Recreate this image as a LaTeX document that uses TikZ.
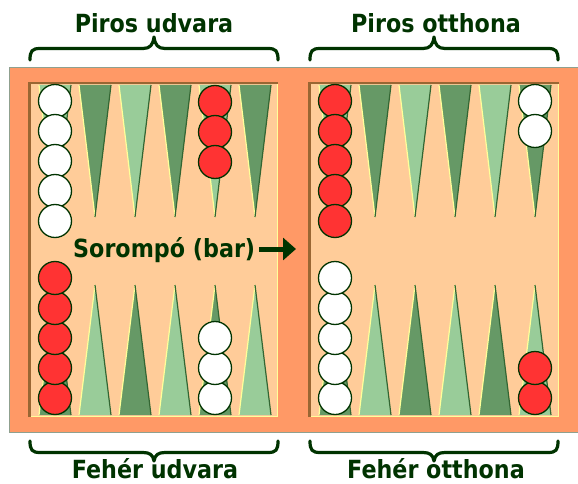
\documentclass[tikz,border=0pt]{standalone}
\usepackage{fontspec}
\usetikzlibrary{arrows.meta}
\newfontfamily\lblfont{DejaVu Sans}[BoldFont={DejaVu Sans Bold}]
\definecolor{boardorange}{HTML}{FF9966}
\definecolor{peach}{HTML}{FFCC99}
\definecolor{ltgreen}{HTML}{99CC99}
\definecolor{dkgreen}{HTML}{669966}
\definecolor{inkgreen}{HTML}{003300}
\definecolor{edgeyellow}{HTML}{FFFF99}
\definecolor{edgedark}{HTML}{336633}
\definecolor{shadowbrown}{HTML}{996633}
\definecolor{rimgrey}{HTML}{8FA08F}
\definecolor{chkred}{HTML}{FF3333}
\tikzset{
  lbl/.style={inkgreen, font=\lblfont\bfseries\fontsize{25}{30}\selectfont, inner sep=0pt, anchor=base},
  brace/.style={draw=inkgreen, line width=3.2pt, line cap=round, line join=round},
  chk/.style={circle, minimum size=33pt, inner sep=0pt, draw=inkgreen, line width=1.3pt},
  redchk/.style={chk, fill=chkred},
  whitechk/.style={chk, fill=white},
  ptlight/.style={fill=ltgreen},
  ptdark/.style={fill=dkgreen},
}
\newcommand{\toppoint}[2]{%
  \fill[#2] (#1-16,85) -- (#1+16,85) -- (#1,217) -- cycle;
  \draw[edgeyellow, line width=1.2pt] (#1-16,85) -- (#1,217);
  \draw[edgedark, line width=1.2pt] (#1+16,85) -- (#1,217);}
\newcommand{\botpoint}[2]{%
  \fill[#2] (#1-16,415) -- (#1+16,415) -- (#1,285) -- cycle;
  \draw[edgeyellow, line width=1.2pt] (#1-16,415) -- (#1,285);
  \draw[edgedark, line width=1.2pt] (#1+16,415) -- (#1,285);}
\begin{document}
\begin{tikzpicture}[x=1pt, y=-1pt]
\useasboundingbox (0,0) rectangle (578,484);
\fill[white] (0,0) rectangle (578,484);
% board
\fill[boardorange] (9,67) rectangle (578,433);
\draw[rimgrey, line width=1pt] (578,67.5) -- (9.5,67.5) -- (9.5,432.5) -- (578,432.5);
% inner playing areas
\foreach \xl/\xr in {28/278, 308/559}{
  \fill[peach] (\xl,82) rectangle (\xr,417);
}
% points
\foreach \i in {0,...,5}{
  \pgfmathtruncatemacro{\cl}{55+40*\i}
  \pgfmathtruncatemacro{\cr}{335+40*\i}
  \ifodd\i
    \toppoint{\cl}{ptdark}\toppoint{\cr}{ptdark}
    \botpoint{\cl}{ptlight}\botpoint{\cr}{ptlight}
  \else
    \toppoint{\cl}{ptlight}\toppoint{\cr}{ptlight}
    \botpoint{\cl}{ptdark}\botpoint{\cr}{ptdark}
  \fi
}
% inner frame shading
\foreach \xl/\xr in {28/278, 308/559}{
  \draw[shadowbrown, line width=2.5pt] (\xl+1.25,417) -- (\xl+1.25,83.25) -- (\xr,83.25);
  \draw[edgeyellow, line width=1.5pt] (\xl+2.5,416.25) -- (\xr-0.75,416.25) -- (\xr-0.75,84.5);
}
% checkers: left half
\foreach \k/\y in {1/101,2/131,3/161,4/191,5/221}{
  \node[whitechk] (lw\k) at (55,\y) {};
}
\foreach \k/\y in {1/102,2/132,3/162}{
  \node[redchk] (lr\k) at (215,\y) {};
}
\foreach \k/\y in {1/398,2/368,3/338,4/308,5/278}{
  \node[redchk] (lbr\k) at (55,\y) {};
}
\foreach \k/\y in {1/398,2/368,3/338}{
  \node[whitechk] (lbw\k) at (215,\y) {};
}
% checkers: right half
\foreach \k/\y in {1/101,2/131,3/161,4/191,5/221}{
  \node[redchk] (rr\k) at (335,\y) {};
}
\foreach \k/\y in {1/101,2/131}{
  \node[whitechk] (rw\k) at (535,\y) {};
}
\foreach \k/\y in {1/398,2/368,3/338,4/308,5/278}{
  \node[whitechk] (rbw\k) at (335,\y) {};
}
\foreach \k/\y in {1/398,2/368}{
  \node[redchk] (rbr\k) at (535,\y) {};
}
% bar label and arrow
\node[lbl, anchor=base west] (bar) at (73,257) {\scalebox{0.89}[1]{Sorompó (bar)}};
\coordinate (arrS) at (259,249);
\coordinate (arrE) at (296,249);
\draw[inkgreen, line width=5pt, -{Triangle[length=13pt,width=22pt]}] (arrS) -- (arrE);
% top braces and labels
\draw[brace] (30,60) .. controls (30,51) and (32,48.5) .. (40,48.5) -- (143,48.5)
  .. controls (150,48.5) and (153,45) .. (154,37) .. controls (155,45) and (158,48.5) .. (165,48.5)
  -- (268,48.5) .. controls (276,48.5) and (278,51) .. (278,60);
\draw[brace] (310,60) .. controls (310,51) and (312,48.5) .. (320,48.5) -- (423,48.5)
  .. controls (430,48.5) and (433,45) .. (434,37) .. controls (435,45) and (438,48.5) .. (445,48.5)
  -- (548,48.5) .. controls (556,48.5) and (558,51) .. (558,60);
\node[lbl] (pu) at (154,33) {\scalebox{0.89}[1]{Piros udvara}};
\node[lbl] (po) at (436,33) {\scalebox{0.89}[1]{Piros otthona}};
% bottom braces and labels
\draw[brace] (30,441) .. controls (30,450) and (32,452.5) .. (40,452.5) -- (143,452.5)
  .. controls (150,452.5) and (153,455) .. (154,461) .. controls (155,455) and (158,452.5) .. (165,452.5)
  -- (268,452.5) .. controls (276,452.5) and (278,450) .. (278,441);
\draw[brace] (310,441) .. controls (310,450) and (312,452.5) .. (320,452.5) -- (423,452.5)
  .. controls (430,452.5) and (433,455) .. (434,461) .. controls (435,455) and (438,452.5) .. (445,452.5)
  -- (548,452.5) .. controls (556,452.5) and (558,450) .. (558,441);
\node[lbl] (fu) at (155,478) {\scalebox{0.89}[1]{Fehér udvara}};
\node[lbl] (fo) at (436,478) {\scalebox{0.89}[1]{Fehér otthona}};
\end{tikzpicture}
\end{document}
